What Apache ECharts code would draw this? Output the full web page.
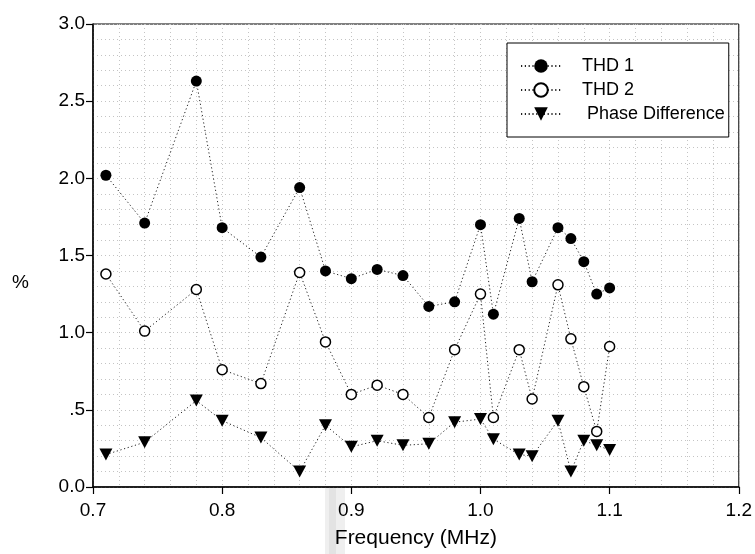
<!DOCTYPE html>
<html>
<head>
<meta charset="utf-8">
<script src="https://cdn.jsdelivr.net/npm/echarts@6/dist/echarts.min.js"></script>
<style>
  html, body { margin: 0; padding: 0; background: #fff; }
  #chart { width: 755px; height: 554px; }
</style>
</head>
<body>
<div id="chart"></div>
<script>
// Measurement frequencies (MHz)
const frequency = [0.71, 0.74, 0.78, 0.80, 0.83, 0.86, 0.88, 0.90, 0.92, 0.94, 0.96,
                   0.98, 1.00, 1.01, 1.03, 1.04, 1.06, 1.07, 1.08, 1.09, 1.10];
// Total harmonic distortion, channel 1 (%)
const thd1 = [2.02, 1.71, 2.63, 1.68, 1.49, 1.94, 1.40, 1.35, 1.41, 1.37, 1.17,
              1.20, 1.70, 1.12, 1.74, 1.33, 1.68, 1.61, 1.46, 1.25, 1.29];
// Total harmonic distortion, channel 2 (%)
const thd2 = [1.38, 1.01, 1.28, 0.76, 0.67, 1.39, 0.94, 0.60, 0.66, 0.60, 0.45,
              0.89, 1.25, 0.45, 0.89, 0.57, 1.31, 0.96, 0.65, 0.36, 0.91];
// Phase difference between channels (%)
const phaseDiff = [0.21, 0.29, 0.56, 0.43, 0.32, 0.10, 0.40, 0.26, 0.30, 0.27, 0.28,
                   0.42, 0.44, 0.31, 0.21, 0.20, 0.43, 0.10, 0.30, 0.27, 0.24];

const seriesNames = ['THD 1', 'THD 2', ' Phase Difference'];
const xTickMin = 0.7, xTickMax = 1.2, xTickStep = 0.1;
const yTickMin = 0.0, yTickMax = 3.0, yTickStep = 0.5;

const FONT = "'Liberation Sans', Arial, Helvetica, sans-serif";
const pairs = (ys) => frequency.map((f, i) => [f, ys[i]]);

const dottedLine = { color: '#222', width: 1, type: [1.2, 2.6] };
const gridLine = { color: '#c4c4c4', width: 1, type: [1, 3] };

const chart = echarts.init(document.getElementById('chart'), null, { renderer: 'canvas' });

chart.setOption({
  backgroundColor: '#fff',
  animation: false,
  textStyle: { fontFamily: FONT },
  grid: {
    left: 93, right: 6, top: 24, bottom: 64,
    show: true, borderColor: '#000', borderWidth: 1,
    backgroundColor: 'transparent'
  },
  legend: {
    orient: 'vertical',
    left: 507, top: 43,
    padding: [14, 4, 14, 13],
    itemWidth: 40, itemHeight: 17, itemGap: 6,
    backgroundColor: '#fff',
    borderColor: '#000', borderWidth: 1, borderRadius: 0,
    textStyle: { fontSize: 18, color: '#000', fontFamily: FONT, padding: [0, 0, 0, 16] },
    data: seriesNames
  },
  graphic: [
    { type: 'rect', z: -1, shape: { x: 325, y: 487, width: 20, height: 67 }, style: { fill: '#efefef' } },
    { type: 'rect', z: -1, shape: { x: 329, y: 487, width: 7, height: 67 }, style: { fill: '#e3e3e3' } },
    { type: 'text', left: 12, top: 273, style: { text: '%', font: '19px ' + FONT, fill: '#000' } }
  ],
  xAxis: {
    type: 'value',
    min: xTickMin, max: xTickMax, interval: xTickStep,
    name: 'Frequency (MHz)', nameLocation: 'middle', nameGap: 41,
    nameTextStyle: { fontSize: 21, color: '#000', fontFamily: FONT },
    axisLine: { show: true, onZero: false, lineStyle: { color: '#000', width: 1.5 } },
    axisTick: { show: true, inside: false, length: 7, lineStyle: { color: '#000', width: 1.2 } },
    axisLabel: { fontSize: 19, color: '#000', margin: 14, fontFamily: FONT,
                 formatter: (v) => v.toFixed(1) },
    splitLine: { show: true, lineStyle: gridLine },
    minorTick: { show: false, splitNumber: 5 },
    minorSplitLine: { show: true, lineStyle: gridLine }
  },
  yAxis: {
    type: 'value',
    min: yTickMin, max: yTickMax, interval: yTickStep,
    axisLine: { show: true, onZero: false, lineStyle: { color: '#000', width: 1.5 } },
    axisTick: { show: true, inside: false, length: 7, lineStyle: { color: '#000', width: 1.2 } },
    axisLabel: { fontSize: 19, color: '#000', margin: 8, fontFamily: FONT,
                 formatter: (v) => (Math.abs(v - 0.5) < 1e-9 ? '.5' : v.toFixed(1)) },
    splitLine: { show: true, lineStyle: gridLine },
    minorTick: { show: false, splitNumber: 5 },
    minorSplitLine: { show: true, lineStyle: gridLine }
  },
  series: [
    {
      name: seriesNames[0], type: 'line', data: pairs(thd1),
      symbol: 'circle', symbolSize: 11, showAllSymbol: true,
      itemStyle: { color: '#000', borderColor: '#000', borderWidth: 0 },
      lineStyle: dottedLine, z: 4
    },
    {
      name: seriesNames[1], type: 'line', data: pairs(thd2),
      symbol: 'circle', symbolSize: 10, showAllSymbol: true,
      itemStyle: { color: '#fff', borderColor: '#000', borderWidth: 1.5 },
      lineStyle: dottedLine, z: 3
    },
    {
      name: seriesNames[2], type: 'line', data: pairs(phaseDiff),
      symbol: 'triangle', symbolRotate: 180, symbolSize: [13, 12], showAllSymbol: true,
      itemStyle: { color: '#000', borderColor: '#000', borderWidth: 0 },
      lineStyle: dottedLine, z: 5
    }
  ]
});
</script>
</body>
</html>
